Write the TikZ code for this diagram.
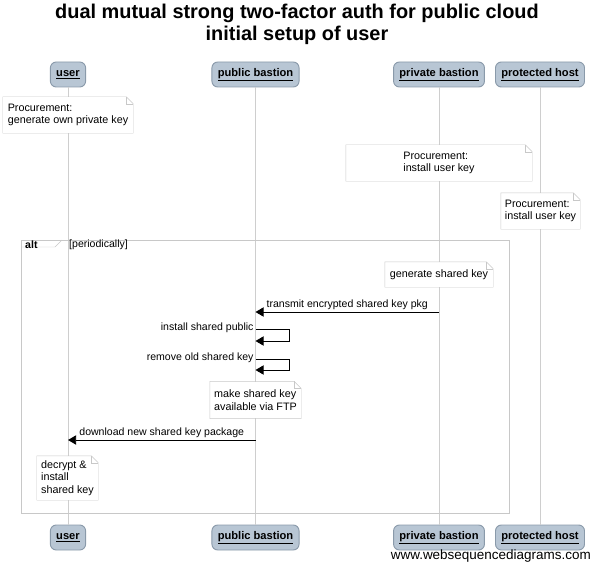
\documentclass[tikz,border=0pt]{standalone}
\usepackage{fontspec}
\setmainfont{Liberation Sans}
\usepackage{tikz}
\usetikzlibrary{arrows.meta, positioning}
\definecolor{headfill}{RGB}{184, 198, 212}
\definecolor{headline}{RGB}{138, 154, 170}
\definecolor{lifegray}{RGB}{206, 206, 206}
\definecolor{notegray}{RGB}{200, 200, 200}

% outline of a note with a folded corner
\newcommand{\dogear}[1]{%
  \draw[notegray] (#1.south west) -- (#1.north west) -- ([xshift=-6pt]#1.north east)
    -- ([yshift=-6pt]#1.north east) -- (#1.south east) -- cycle;
  \draw[notegray] ([xshift=-6pt]#1.north east) -- ([xshift=-6pt, yshift=-6pt]#1.north east)
    -- ([yshift=-6pt]#1.north east);}

\begin{document}
\begin{tikzpicture}[
        x=0.03cm, y=-0.03cm,
        head/.style={rectangle, rounded corners=5pt, draw=headline, fill=headfill, thick, minimum height=0.75cm, inner xsep=5pt, font=\fontsize{9.5}{11}\selectfont\bfseries},
        note/.style={rectangle, fill=white, align=left, inner sep=3pt, font=\fontsize{9.2}{10.8}\selectfont},
        life/.style={draw=lifegray, thin},
        msg/.style={-{Triangle[length=7pt, width=8pt]}, thick, black},
        lbl/.style={font=\fontsize{9}{10.5}\selectfont, inner sep=1.5pt}
    ]
        \useasboundingbox (0,0) rectangle (594,565);

        % Title
        \node[font=\fontsize{17}{18.8}\selectfont\bfseries, align=center] (title) at (297,24) {dual mutual strong two-factor auth for public cloud\\initial setup of user};

        % Top Row
        \node[head] (user) at (68,74.5) {\underline{user}};
        \node[head] (pub) at (255.5,74.5) {\underline{public bastion}};
        \node[head] (priv) at (439,74.5) {\underline{private bastion}};
        \node[head] (host) at (540,74.5) {\underline{protected host}};

        % Bottom Row
        \node[head] (userb) at (68,537.5) {\underline{user}};
        \node[head] (pubb) at (255.5,537.5) {\underline{public bastion}};
        \node[head] (privb) at (439,537.5) {\underline{private bastion}};
        \node[head] (hostb) at (540,537.5) {\underline{protected host}};
        \node[anchor=east, font=\fontsize{11.5}{13}\selectfont, inner sep=0pt] (site) at (591,556) {www.websequencediagrams.com};

        % Lifelines
        \draw[life] (user) -- (userb);
        \draw[life] (pub) -- (pubb);
        \draw[life] (priv) -- (privb);
        \draw[life] (host) -- (hostb);

        % alt frame
        \draw[notegray] (21,240) rectangle (509,513);
        \draw[notegray] (21,247) -- (55,247) -- (62,240);
        \node[anchor=west, font=\fontsize{9}{10}\selectfont\bfseries, inner sep=0pt] (alt) at (25,244.5) {alt};
        \node[anchor=west, font=\fontsize{9}{10}\selectfont, inner sep=0pt] (cond) at (69,244.5) {[periodically]};

        % Notes
        \node[note, minimum width=3.9cm, minimum height=1.08cm] (n1) at (68,115) {Procurement:\\generate own private key};
        \dogear{n1}
        \node[note, minimum width=5.58cm, minimum height=1.08cm] (n2) at (439,163) {Procurement:\\install user key};
        \dogear{n2}
        \node[note, minimum width=2.37cm, minimum height=1.08cm] (n3) at (540.5,211) {Procurement:\\install user key};
        \dogear{n3}
        \node[note, minimum width=3.24cm, minimum height=0.75cm] (n4) at (439,274.5) {generate shared key};
        \dogear{n4}
        \node[note, minimum width=2.73cm, minimum height=1.1cm] (n5) at (255.5,400) {make shared key\\available via FTP};
        \dogear{n5}
        \node[note, minimum width=1.83cm, minimum height=1.32cm] (n6) at (67.5,478) {decrypt \&\\install\\shared key};
        \dogear{n6}

        % Messages
        \coordinate (pv1) at (439,312);
        \coordinate (pb1) at (255.5,312);
        \draw[msg] (pv1) -- node[lbl, above] {transmit encrypted shared key pkg} (pb1);

        \coordinate (pb2) at (255.5,329);
        \coordinate (pb3) at (255.5,341);
        \draw[msg] (pb2) -- ++(34,0) |- (pb3);
        \node[lbl, anchor=east] (m2) at ([yshift=1pt]pb2) {install shared public};

        \coordinate (pb4) at (255.5,359);
        \coordinate (pb5) at (255.5,370);
        \draw[msg] (pb4) -- ++(34,0) |- (pb5);
        \node[lbl, anchor=east] (m3) at ([yshift=1pt]pb4) {remove old shared key};

        \coordinate (pb6) at (255.5,440);
        \coordinate (us1) at (68,440);
        \draw[msg] (pb6) -- node[lbl, above] {download new shared key package} (us1);
    \end{tikzpicture}
\end{document}
